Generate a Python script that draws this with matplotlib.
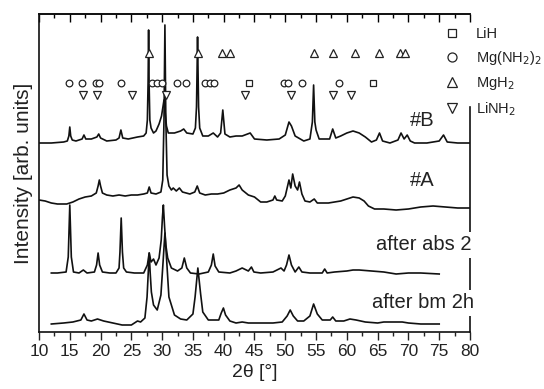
import matplotlib
matplotlib.use("Agg")
import matplotlib.pyplot as plt
from matplotlib.lines import Line2D
from matplotlib.ticker import MultipleLocator

plt.rcParams['font.family'] = ['Liberation Sans', 'DejaVu Sans']

# ---------------- data (2theta in degrees, intensity in arb. units) ----------------
tth_B = [10, 12, 14, 14.6, 14.85, 15.0, 15.15, 15.4, 16, 17.0, 17.3, 17.6, 18.5, 19.4, 19.7, 20.0, 21, 22.5,
         23.0, 23.3, 23.6, 24.5, 26, 27.0, 27.4, 27.6, 27.72, 27.8, 27.88, 28.0, 28.2, 28.6, 29.0, 29.5, 29.9,
         30.3, 30.7, 31.0, 32, 33, 33.5, 34, 35.0, 35.4, 35.58, 35.68, 35.75, 35.82, 35.92, 36.1, 36.6, 37.5,
         38.3, 39.0, 39.5, 39.85, 40.2, 41, 42, 43.0, 44.3, 45, 47, 49, 50.0, 50.6, 51.0, 51.6, 53, 54.0, 54.4,
         54.6, 54.8, 55.0, 55.5, 57.2, 57.7, 58.2, 59, 60, 61, 62, 63, 64, 64.8, 65.3, 65.8, 67, 68.3, 68.8,
         69.3, 69.8, 70.3, 71, 73, 75, 75.7, 76.3, 78, 80]
int_B = [189, 189, 190, 191, 196, 205, 196, 192, 191, 193, 197, 193, 193, 195, 198, 194, 191, 192,
         194, 202, 194, 193, 195, 196, 199, 212, 250, 302, 250, 212, 204, 199, 201, 208, 216,
         232, 206, 199, 199, 201, 203, 199, 198, 204, 225, 265, 295, 265, 225, 204, 196, 196,
         199, 195, 199, 222, 198, 195, 196, 196, 199, 193, 192, 193, 197, 210, 206, 196, 191, 193, 210,
         247, 210, 202, 193, 193, 203, 194, 196, 199, 201, 199, 195, 190, 192, 199, 191, 189, 192, 199,
         193, 197, 191, 189, 189, 191, 197, 190, 189, 189]

tth_A = [10, 11, 12, 13, 14.5, 15.5, 16.5, 17.5, 18.5, 19.3, 19.6, 19.8, 20.0, 20.3, 21, 22, 23, 24, 25, 26,
         27.0, 27.6, 27.9, 28.2, 29, 29.8, 30.1, 30.3, 30.45, 30.6, 30.8, 31.1, 31.5, 31.8, 32.3, 32.8, 33.3,
         34.5, 35.3, 35.7, 36.1, 37, 38, 39, 40, 41, 42.0, 42.5, 43.0, 44, 45, 46, 47, 48.0, 48.3, 48.6, 49.5,
         50.0, 50.6, 50.9, 51.2, 51.6, 52.0, 52.3, 52.7, 53.2, 54, 54.7, 55.2, 56, 57, 58, 59, 60, 61, 62,
         62.8, 63.5, 64.5, 66, 68, 70, 72, 74, 76, 78, 80]
int_A = [132, 131, 129, 128, 128, 130, 133, 135, 136, 139, 146, 152, 146, 139, 137, 136, 137, 136, 137, 137,
         138, 139, 145, 139, 138, 140, 152, 212, 307, 212, 157, 146, 142, 144, 141, 144, 140,
         138, 140, 146, 139, 137, 138, 138, 139, 142, 144, 147, 142, 137, 135, 130, 130, 132, 136, 132, 131,
         136, 152, 144, 158, 146, 142, 150, 138, 131, 130, 133, 129, 129, 129, 130, 131, 133, 135, 134,
         131, 126, 123, 123, 122, 123, 125, 126, 125, 124, 124]

tth_abs = [12, 13, 14.4, 14.75, 15.0, 15.25, 15.6, 16.5, 17.2, 17.8, 19.0, 19.35, 19.6, 19.85, 20.3, 21.5,
           22.5, 23.0, 23.15, 23.35, 23.55, 23.75, 24.2, 25.5, 27.0, 27.6, 27.9, 28.2, 28.6, 29.0, 29.5,
           29.85, 30.05, 30.2, 30.4, 30.6, 30.9, 31.5, 32.5, 33.2, 33.6, 34.0, 34.6, 36, 37.5, 38.0, 38.3,
           38.6, 39.2, 41, 42, 43, 44, 44.5, 44.9, 46, 48, 49.3, 49.8, 50.2, 50.6, 51.0, 51.6, 52.2, 52.7,
           54, 56, 56.4, 56.8, 58, 60, 61, 62, 64, 66, 68, 70, 72, 75]
int_abs = [59, 59, 60, 75, 127, 75, 60, 59, 62, 59, 60, 67, 79, 67, 60, 59,
           59, 64, 80, 114, 80, 64, 60, 59, 59, 67, 79, 70, 73, 67, 74,
           92, 115, 127, 105, 87, 74, 64, 61, 64, 74, 64, 59, 58, 60, 67, 78,
           66, 60, 59, 61, 64, 61, 65, 60, 59, 60, 64, 61, 67, 77, 67, 60, 65, 60,
           59, 59, 63, 59, 60, 61, 62, 62, 61, 60, 58, 59, 59, 58]

tth_bm = [12, 14, 15.5, 16.8, 17.3, 17.8, 18.5, 19.5, 20.5, 22, 23.5, 25, 26.0, 26.5, 27.2, 27.55, 27.75,
          27.9, 28.05, 28.25, 28.6, 29.2, 29.8, 30.15, 30.45, 30.75, 31.1, 32, 33, 34, 35.0, 35.35, 35.8,
          36.25, 36.6, 37.5, 39.2, 39.6, 39.95, 40.3, 41, 42, 43, 44, 46, 48, 49.5, 50.3, 50.8, 51.3, 52,
          53, 54.0, 54.6, 55.2, 56, 57.3, 57.7, 58.2, 59.5, 60.5, 61.5, 63, 65, 66, 68, 69, 70, 72, 75]
int_bm = [8, 9, 10, 12, 18, 12, 11, 13, 11, 9, 7, 7, 11, 10, 14, 35, 60,
          79, 60, 40, 27, 22, 37, 70, 99, 70, 35, 17, 13, 12, 18, 35, 64,
          38, 20, 12, 12, 19, 24, 17, 11, 9, 10, 9, 9, 9, 10, 16, 22, 16, 11,
          11, 16, 28, 18, 12, 12, 15, 11, 11, 13, 12, 10, 9, 10, 10, 10, 9, 8, 8]

# reflection markers (2theta positions)
pos_LiH = [44.1, 64.3]
pos_MgNH2 = [14.9, 17.0, 19.2, 19.7, 23.3, 28.4, 29.2, 30.0, 32.4, 33.8, 36.9, 37.8, 38.4,
             49.8, 50.4, 52.7, 58.8]
pos_MgH2 = [27.9, 35.8, 39.8, 41.0, 54.6, 57.7, 61.4, 65.2, 68.6, 69.5]
pos_LiNH2 = [17.2, 19.5, 25.1, 30.6, 43.5, 50.9, 57.7, 60.7]

trace_labels = ["#B", "#A", "after abs 2", "after bm 2h"]
legend_labels = ["LiH", "Mg(NH$_2$)$_2$", "MgH$_2$", "LiNH$_2$"]
x_ticks = [10, 15, 20, 25, 30, 35, 40, 45, 50, 55, 60, 65, 70, 75, 80]

# ---------------- figure ----------------
W, H = 544, 389
fig = plt.figure(figsize=(W / 100, H / 100), dpi=100)
ax = fig.add_axes([39 / W, 1 - 332 / H, (470 - 39) / W, (332 - 14) / H])

lc = '#111111'
for tt, ii in [(tth_B, int_B), (tth_A, int_A), (tth_abs, int_abs), (tth_bm, int_bm)]:
    ax.plot(tt, ii, color=lc, lw=1.2, solid_joinstyle='round')

mk = dict(ls='none', mfc='white', mec='#222222', mew=0.9, zorder=4)
row_sq, row_up, row_dn = 249, 279, 237
ax.plot(pos_LiH, [row_sq] * len(pos_LiH), marker='s', ms=4.3, **mk)
ax.plot(pos_MgNH2, [row_sq] * len(pos_MgNH2), marker='o', ms=4.8, **mk)
ax.plot(pos_MgH2, [row_up] * len(pos_MgH2), marker='^', ms=5.5, **mk)
ax.plot(pos_LiNH2, [row_dn] * len(pos_LiNH2), marker='v', ms=5.5, **mk)

ax.set_xlim(10, 80)
ax.set_ylim(0, 318)
ax.set_xticks(x_ticks)
ax.xaxis.set_minor_locator(MultipleLocator(2.5))
ax.set_yticks([])
ax.tick_params(axis='x', which='both', direction='out', top=False, labelsize=12.5,
               colors='#222222', pad=3)
ax.tick_params(axis='x', which='major', length=6, width=1)
ax.tick_params(axis='x', which='minor', length=3, width=1)
# top axis ticks pointing inward
secx = ax.secondary_xaxis('top')
secx.set_xticks(x_ticks)
secx.xaxis.set_minor_locator(MultipleLocator(2.5))
secx.tick_params(axis='x', which='both', direction='in', labeltop=False)
secx.tick_params(axis='x', which='major', length=6, width=1)
secx.tick_params(axis='x', which='minor', length=3, width=1)
secx.spines['top'].set_linewidth(1.2)

for s in ax.spines.values():
    s.set_linewidth(1.2)
    s.set_color('#111111')
ax.spines['right'].set_bounds(0, 225)

ax.set_xlabel("2θ [°]", fontsize=14, color='#222222', labelpad=3)
ax.set_ylabel("Intensity [arb. units]", fontsize=15, color='#222222', labelpad=4.5)

tk = dict(fontsize=14.5, color='#222222', va='center', clip_on=False, zorder=5)
ax.text(70.3, 212, trace_labels[0], ha='left', **tk)
ax.text(70.3, 152, trace_labels[1], ha='left', **tk)
bb = dict(boxstyle='square,pad=0.15', fc='white', ec='none')
ax.text(80.2, 87, trace_labels[2], ha='right', bbox=bb, **tk)
ax.text(80.6, 29, trace_labels[3], ha='right', bbox=bb, **tk)

handles = [Line2D([], [], marker=m, ms=s, **mk) for m, s in
           [('s', 5.5), ('o', 6.5), ('^', 7), ('v', 7)]]
leg = fig.legend(handles, legend_labels, loc='upper left',
                 bbox_to_anchor=(445 / W, 1 - 27 / H), frameon=False,
                 fontsize=10.5, handlelength=1.0, handletextpad=1.1,
                 labelspacing=0.55, borderpad=0, borderaxespad=0)
for t in leg.get_texts():
    t.set_color('#222222')

fig.savefig("out.png", dpi=100)
